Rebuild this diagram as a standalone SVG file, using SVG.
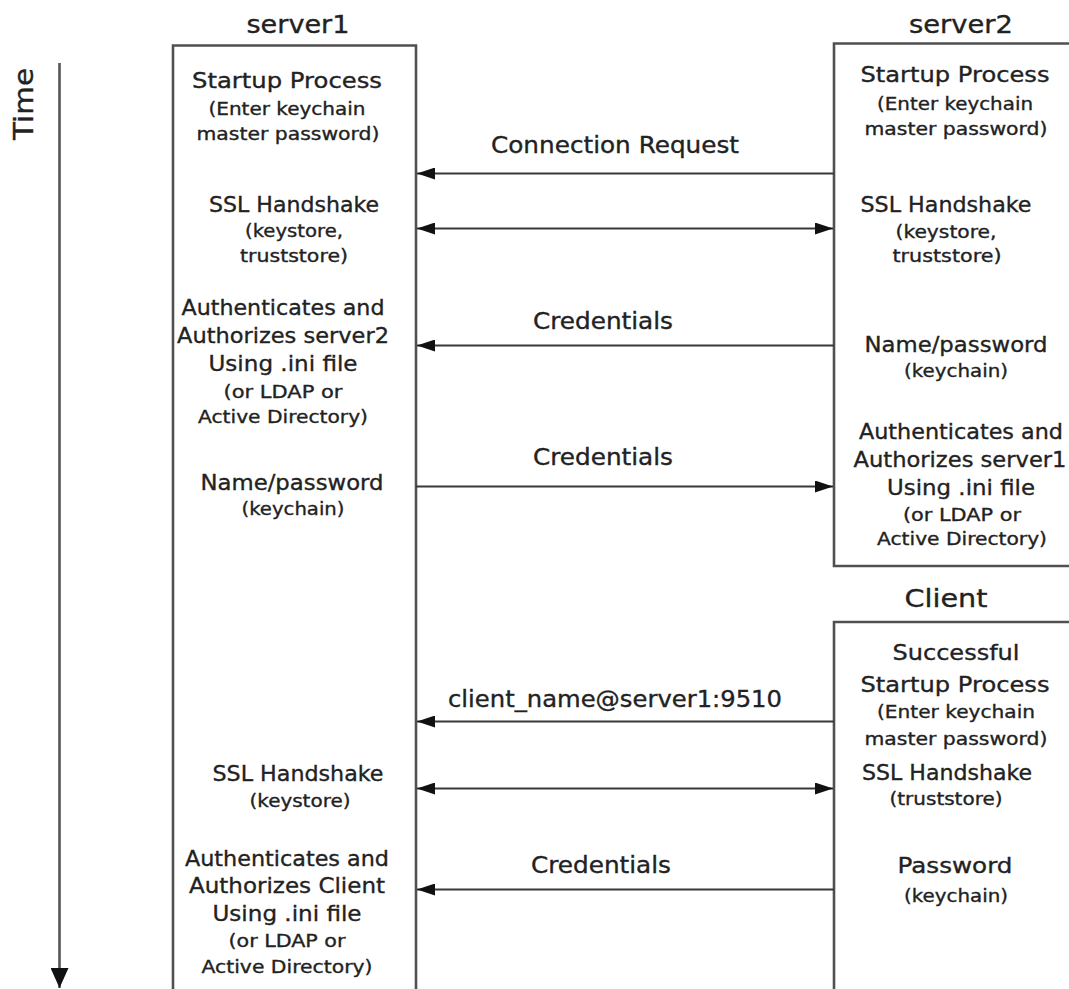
<svg xmlns="http://www.w3.org/2000/svg" width="1069" height="989" viewBox="0 0 1069 989">
<style>
text{font-family:"DejaVu Sans","Liberation Sans",sans-serif;fill:#222;stroke:#222;stroke-width:0.35;text-anchor:middle}
.h{font-size:25px}
.m{font-size:22px}
.s{font-size:18px}
.l{font-size:23px}
.box{fill:none;stroke:#505050;stroke-width:2.6}
.c{stroke:#383838;stroke-width:2.2;fill:none}
</style>
<defs>
<marker id="ah" viewBox="0 0 18 12" refX="18" refY="6" markerWidth="18" markerHeight="12" markerUnits="userSpaceOnUse" orient="auto-start-reverse">
<path d="M0,0 L18,6 L0,12 z" fill="#111"/>
</marker>
<marker id="tah" viewBox="0 0 18 20" refX="9" refY="20" markerWidth="18" markerHeight="20" markerUnits="userSpaceOnUse" orient="0">
<path d="M0,0 L18,0 L9,20 z" fill="#111"/>
</marker>
</defs>
<rect width="1069" height="989" fill="#fff"/>

<g id="time">
<text transform="translate(33,104) rotate(-90)" textLength="72" lengthAdjust="spacingAndGlyphs" style="font-size:26px">Time</text>
<line x1="59.5" y1="63" x2="59.5" y2="988" stroke="#555" stroke-width="2.6" marker-end="url(#tah)"/>
</g>

<g id="server1">
<text class="h" x="298" y="33" textLength="103" lengthAdjust="spacingAndGlyphs">server1</text>
<path class="box" d="M173,1000 V45.5 H416 V1000"/>
<text class="m" x="287" y="88" textLength="190" lengthAdjust="spacingAndGlyphs">Startup Process</text>
<text class="s" x="287" y="115" textLength="157" lengthAdjust="spacingAndGlyphs">(Enter keychain</text>
<text class="s" x="288" y="140" textLength="183" lengthAdjust="spacingAndGlyphs">master password)</text>
<text class="m" x="294" y="212" textLength="170" lengthAdjust="spacingAndGlyphs">SSL Handshake</text>
<text class="s" x="294" y="237" textLength="98" lengthAdjust="spacingAndGlyphs">(keystore,</text>
<text class="s" x="294" y="262" textLength="108" lengthAdjust="spacingAndGlyphs">truststore)</text>
<text class="m" x="283" y="315" textLength="203" lengthAdjust="spacingAndGlyphs">Authenticates and</text>
<text class="m" x="283" y="343" textLength="212" lengthAdjust="spacingAndGlyphs">Authorizes server2</text>
<text class="m" x="283" y="371" textLength="149" lengthAdjust="spacingAndGlyphs">Using .ini file</text>
<text class="s" x="283" y="398" textLength="119" lengthAdjust="spacingAndGlyphs">(or LDAP or</text>
<text class="s" x="283" y="423" textLength="170" lengthAdjust="spacingAndGlyphs">Active Directory)</text>
<text class="m" x="292" y="490" textLength="183" lengthAdjust="spacingAndGlyphs">Name/password</text>
<text class="s" x="293" y="515" textLength="103" lengthAdjust="spacingAndGlyphs">(keychain)</text>
<text class="m" x="298" y="781" textLength="171" lengthAdjust="spacingAndGlyphs">SSL Handshake</text>
<text class="s" x="300" y="807" textLength="101" lengthAdjust="spacingAndGlyphs">(keystore)</text>
<text class="m" x="287" y="866" textLength="204" lengthAdjust="spacingAndGlyphs">Authenticates and</text>
<text class="m" x="287" y="893" textLength="196" lengthAdjust="spacingAndGlyphs">Authorizes Client</text>
<text class="m" x="287" y="921" textLength="149" lengthAdjust="spacingAndGlyphs">Using .ini file</text>
<text class="s" x="287" y="947" textLength="117" lengthAdjust="spacingAndGlyphs">(or LDAP or</text>
<text class="s" x="287" y="973" textLength="171" lengthAdjust="spacingAndGlyphs">Active Directory)</text>
</g>

<g id="server2">
<text class="h" x="961" y="33" textLength="104" lengthAdjust="spacingAndGlyphs">server2</text>
<path class="box" d="M1080,43.5 H834 V566 H1080"/>
<text class="m" x="955" y="82" textLength="189" lengthAdjust="spacingAndGlyphs">Startup Process</text>
<text class="s" x="955" y="110" textLength="156" lengthAdjust="spacingAndGlyphs">(Enter keychain</text>
<text class="s" x="956" y="135" textLength="183" lengthAdjust="spacingAndGlyphs">master password)</text>
<text class="m" x="946" y="212" textLength="171" lengthAdjust="spacingAndGlyphs">SSL Handshake</text>
<text class="s" x="946" y="238" textLength="101" lengthAdjust="spacingAndGlyphs">(keystore,</text>
<text class="s" x="947" y="262" textLength="109" lengthAdjust="spacingAndGlyphs">truststore)</text>
<text class="m" x="956" y="352" textLength="183" lengthAdjust="spacingAndGlyphs">Name/password</text>
<text class="s" x="956" y="377" textLength="104" lengthAdjust="spacingAndGlyphs">(keychain)</text>
<text class="m" x="961" y="439" textLength="204" lengthAdjust="spacingAndGlyphs">Authenticates and</text>
<text class="m" x="960" y="467" textLength="213" lengthAdjust="spacingAndGlyphs">Authorizes server1</text>
<text class="m" x="961" y="495" textLength="148" lengthAdjust="spacingAndGlyphs">Using .ini file</text>
<text class="s" x="962" y="521" textLength="118" lengthAdjust="spacingAndGlyphs">(or LDAP or</text>
<text class="s" x="962" y="545" textLength="170" lengthAdjust="spacingAndGlyphs">Active Directory)</text>
</g>

<g id="client">
<text class="h" x="946" y="607" textLength="83" lengthAdjust="spacingAndGlyphs">Client</text>
<path class="box" d="M1080,622 H834 V1000"/>
<text class="m" x="956" y="660" textLength="127" lengthAdjust="spacingAndGlyphs">Successful</text>
<text class="m" x="955" y="692" textLength="189" lengthAdjust="spacingAndGlyphs">Startup Process</text>
<text class="s" x="956" y="718" textLength="158" lengthAdjust="spacingAndGlyphs">(Enter keychain</text>
<text class="s" x="956" y="745" textLength="183" lengthAdjust="spacingAndGlyphs">master password)</text>
<text class="m" x="947" y="780" textLength="170" lengthAdjust="spacingAndGlyphs">SSL Handshake</text>
<text class="s" x="946" y="805" textLength="113" lengthAdjust="spacingAndGlyphs">(truststore)</text>
<text class="m" x="955" y="873" textLength="115" lengthAdjust="spacingAndGlyphs">Password</text>
<text class="s" x="956" y="902" textLength="104" lengthAdjust="spacingAndGlyphs">(keychain)</text>
</g>

<g id="connectors">
<line class="c" x1="834" y1="173.5" x2="417" y2="173.5" marker-end="url(#ah)"/>
<text class="l" x="615" y="153" textLength="248" lengthAdjust="spacingAndGlyphs">Connection Request</text>
<line class="c" x1="417" y1="228.5" x2="833" y2="228.5" marker-start="url(#ah)" marker-end="url(#ah)"/>
<line class="c" x1="834" y1="345.5" x2="417" y2="345.5" marker-end="url(#ah)"/>
<text class="l" x="603" y="329" textLength="140" lengthAdjust="spacingAndGlyphs">Credentials</text>
<line class="c" x1="416" y1="486.5" x2="833" y2="486.5" marker-end="url(#ah)"/>
<text class="l" x="603" y="465" textLength="140" lengthAdjust="spacingAndGlyphs">Credentials</text>
<line class="c" x1="834" y1="721.5" x2="417" y2="721.5" marker-end="url(#ah)"/>
<text class="l" x="615" y="707" textLength="334" lengthAdjust="spacingAndGlyphs">client_name@server1:9510</text>
<line class="c" x1="417" y1="788.5" x2="833" y2="788.5" marker-start="url(#ah)" marker-end="url(#ah)"/>
<line class="c" x1="834" y1="889.5" x2="417" y2="889.5" marker-end="url(#ah)"/>
<text class="l" x="601" y="873" textLength="140" lengthAdjust="spacingAndGlyphs">Credentials</text>
</g>
</svg>
